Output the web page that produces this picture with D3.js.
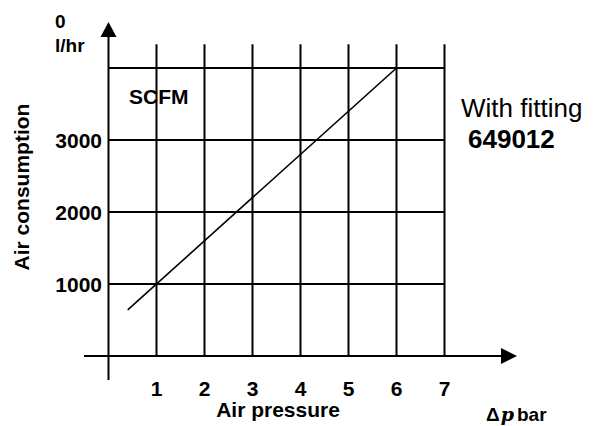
<!DOCTYPE html>
<html>
<head>
<meta charset="utf-8">
<script src="https://cdn.jsdelivr.net/npm/d3@7"></script>
<style>
  body { margin: 0; background: #fff; }
  text { font-family: "Liberation Sans", Arial, sans-serif; fill: #000; }
</style>
</head>
<body>
<script>
// data
var pressureTicks = [1, 2, 3, 4, 5, 6, 7];
var consumptionGrid = [1000, 2000, 3000, 4000];
var consumptionLabels = ["1000", "2000", "3000"];
var linePressure = [0.4, 6];
var lineConsumption = [640, 4000];

var w = 594;
var h = 426;

var x = d3.scaleLinear().domain([0, 7]).range([108.5, 444.5]);
var y = d3.scaleLinear().domain([0, 4000]).range([356, 68]);

var svg = d3.select("body").append("svg")
    .attr("width", w)
    .attr("height", h);

var grid_g = svg.append("g").attr("class", "grid")
    .attr("stroke", "#000")
    .attr("stroke-width", 2);

// vertical grid lines (run a little above the top line)
grid_g.selectAll(".vline")
    .data(pressureTicks)
    .enter()
    .append("line")
    .attr("x1", d => x(d)).attr("x2", d => x(d))
    .attr("y1", y(0)).attr("y2", y(4330));

// horizontal grid lines
grid_g.selectAll(".hline")
    .data(consumptionGrid)
    .enter()
    .append("line")
    .attr("x1", x(0)).attr("x2", x(7))
    .attr("y1", d => y(d)).attr("y2", d => y(d));

// axes with arrows
var axis_g = svg.append("g").attr("class", "axes");
axis_g.append("line")
    .attr("x1", x(0)).attr("x2", x(0))
    .attr("y1", 380).attr("y2", 34)
    .attr("stroke", "#000").attr("stroke-width", 2);
axis_g.append("path")
    .attr("d", `M${x(0)},22 L${x(0) - 8},37 L${x(0) + 8},37 Z`)
    .attr("fill", "#000");
axis_g.append("line")
    .attr("x1", 84).attr("x2", 502)
    .attr("y1", y(0)).attr("y2", y(0))
    .attr("stroke", "#000").attr("stroke-width", 2);
axis_g.append("path")
    .attr("d", `M517,${y(0)} L501,${y(0) - 8} L501,${y(0) + 8} Z`)
    .attr("fill", "#000");

// the curve
var line = d3.line()
    .x(d => x(d[0]))
    .y(d => y(d[1]));
svg.append("path")
    .datum(linePressure.map((p, i) => [p, lineConsumption[i]]))
    .attr("d", line)
    .attr("fill", "none")
    .attr("stroke", "#000")
    .attr("stroke-width", 1.6);

// tick labels
var label_g = svg.append("g").attr("class", "labels")
    .style("font-weight", "bold")
    .style("font-size", "21px");

label_g.selectAll(".xtick")
    .data(pressureTicks)
    .enter()
    .append("text")
    .attr("x", d => x(d))
    .attr("y", 396)
    .attr("text-anchor", "middle")
    .text(d => d);

label_g.selectAll(".ytick")
    .data(consumptionLabels)
    .enter()
    .append("text")
    .attr("x", 102)
    .attr("y", (d, i) => y(consumptionGrid[i]) + 7.5)
    .attr("text-anchor", "end")
    .text(d => d);

label_g.append("text").attr("x", 55).attr("y", 28).style("font-size", "19px").text("0");
label_g.append("text").attr("x", 55).attr("y", 52).style("font-size", "19px").text("l/hr");
label_g.append("text").attr("x", 129).attr("y", 104).text("SCFM");

label_g.append("text")
    .attr("x", 278).attr("y", 417)
    .attr("text-anchor", "middle")
    .text("Air pressure");

label_g.append("text")
    .attr("transform", "translate(29,187) rotate(-90)")
    .attr("text-anchor", "middle")
    .text("Air consumption");

var dp = svg.append("text")
    .attr("x", 486).attr("y", 421)
    .style("font-size", "19px")
    .style("font-weight", "bold");
dp.append("tspan").text("Δ");
dp.append("tspan").attr("dx", 1).style("font-style", "italic").style("font-family", "DejaVu Serif").text("p");
dp.append("tspan").attr("dx", 3).text("bar");

svg.append("text")
    .attr("x", 461).attr("y", 117)
    .style("font-size", "26px")
    .text("With fitting");
svg.append("text")
    .attr("x", 468).attr("y", 148)
    .style("font-size", "26px")
    .style("font-weight", "bold")
    .text("649012");
</script>
</body>
</html>
